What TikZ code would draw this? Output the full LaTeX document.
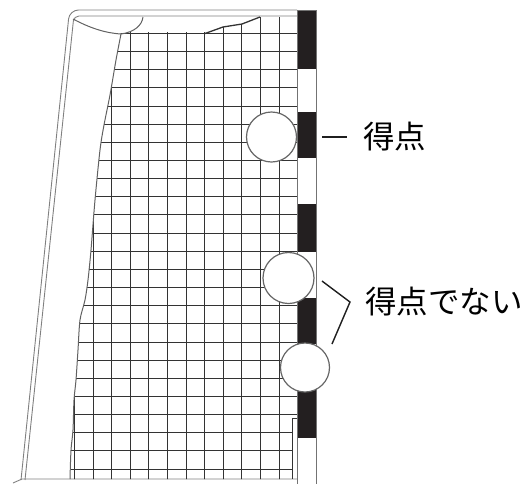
\documentclass[tikz,border=0pt]{standalone}
\usepackage{fontspec}
\newfontfamily\jpfont{Noto Sans CJK JP}
\definecolor{postdark}{HTML}{231F20}
\begin{document}
\begin{tikzpicture}[x=1pt,y=-1pt,
  frameline/.style={draw=black!50,line width=0.9pt},
  netline/.style={draw=black!80,line width=1.3pt},
  edgeline/.style={draw=black!62,line width=1pt},
  postline/.style={draw=black!55,line width=0.9pt},
  ball/.style={circle,draw=black!60,line width=1.2pt,fill=white,minimum size=50pt,inner sep=0pt},
  lbl/.style={font=\jpfont\fontsize{31.5}{31.5}\selectfont,text=black,inner sep=0pt,anchor=west},
  callout/.style={draw=black!88,line width=1.4pt}]
\useasboundingbox (0,0) rectangle (531,483);

% goal frame: outer and inner tube with rounded upper corner
\draw[frameline,rounded corners=9pt] (21,480) -- (69.5,10) -- (297,10);
\draw[frameline,rounded corners=5pt] (25,480) -- (73.9,16) -- (297,16);
% ground line
\draw[frameline] (13,483) -- (22,479) -- (297,479);

% net mesh, clipped to the hanging net
\begin{scope}
  \clip (121,32) -- (205,32) -- (223,27) -- (242,24) -- (260,17) -- (297,17)
    -- (297,418) -- (292,418) -- (292,479) -- (70,479) -- (71,450) -- (73,430)
    -- (74,400) -- (76,380) -- (78,350) -- (80,320) -- (85,300) -- (88,280)
    -- (91,250) -- (95,200) -- (100,150) -- (104,125) -- (110,95) -- (116,60) -- cycle;
  \foreach \k in {0,...,11}
    \draw[netline] ({round(74+18.6*\k)+0.5},10) -- ({round(74+18.6*\k)+0.5},480);
  \foreach \k in {0,...,24}
    \draw[netline] (60,{round(33+18.15*\k)+0.5}) -- (297,{round(33+18.15*\k)+0.5});
\end{scope}
% net outline
\draw[edgeline] plot[smooth] coordinates {(121,34) (116,60) (110,95) (104,125)
  (100,150) (95,200) (91,250) (88,280) (85,300) (80,320) (78,350) (76,380)
  (74,400) (73,430) (71,450) (70,479)};
\draw[netline] (205,33.5) -- (223,27) -- (242,24) -- (260,17);
\draw[netline] (297,418.5) -- (292.5,418.5) -- (292.5,479);
% net bag hanging from the corner
\draw[edgeline] (73,19) .. controls (90,28) and (105,33) .. (121,34)
  .. controls (135,32) and (142,25) .. (143,17);

% goal post with black and white bands
\fill[white] (297,10) rectangle (316,483);
\foreach \a/\b in {10/69,112/158,204/252,298/344,390/438}
  \fill[postdark] (297,\a) rectangle (316,\b);
\draw[postline] (297,10) rectangle (316,484);

% balls
\node[ball] (b1) at (271.5,137) {};
\node[ball,minimum size=51pt] (b2) at (288.5,278) {};
\node[ball,minimum size=49pt] (b3) at (305,367.5) {};

% labels and callouts
\node[lbl] (goal) at (363,137) {得点};
\node[lbl] (nogoal) at (365,302) {得点でない};
\coordinate (t1) at (322,137);
\draw[callout] (t1) -- ([xshift=-16pt]goal.west);
\coordinate (u1) at (322,281);
\coordinate (u2) at (332,344);
\coordinate (apex) at ([xshift=-15pt]nogoal.west);
\draw[callout] (u1) -- (apex) -- (u2);
\end{tikzpicture}
\end{document}
